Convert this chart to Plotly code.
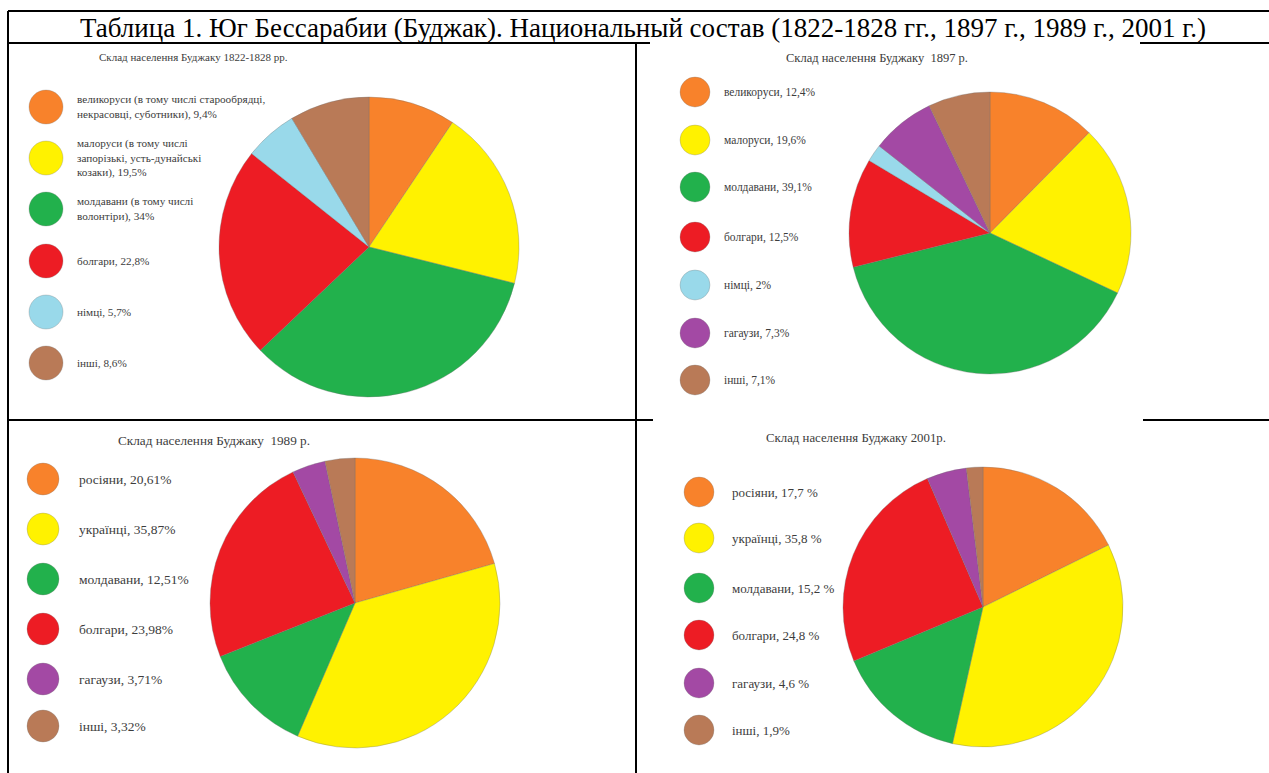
import plotly.graph_objects as go

W, H = 1269, 773

# ---------------- data ----------------
title_main = "Таблица 1. Юг Бессарабии (Буджак). Национальный состав (1822-1828 гг., 1897 г., 1989 г., 2001 г.)"

titles = [
    "Склад населення Буджаку 1822-1828 рр.",
    "Склад населення Буджаку  1897 р.",
    "Склад населення Буджаку  1989 р.",
    "Склад населення Буджаку 2001р.",
]

labels_1822 = ["великоруси (в тому числі старообрядці,<br>некрасовці, суботники), 9,4%",
               "малоруси (в тому числі<br>запорізькі, усть-дунайські<br>козаки), 19,5%",
               "молдавани (в тому числі<br>волонтіри), 34%",
               "болгари, 22,8%", "німці, 5,7%", "інші, 8,6%"]
values_1822 = [9.4, 19.5, 34.0, 22.8, 5.7, 8.6]
colors_1822 = ["orange", "yellow", "green", "red", "lightblue", "brown"]

labels_1897 = ["великоруси, 12,4%", "малоруси, 19,6%", "молдавани, 39,1%", "болгари, 12,5%",
               "німці, 2%", "гагаузи, 7,3%", "інші, 7,1%"]
values_1897 = [12.4, 19.6, 39.1, 12.5, 2.0, 7.3, 7.1]
colors_1897 = ["orange", "yellow", "green", "red", "lightblue", "purple", "brown"]

labels_1989 = ["росіяни, 20,61%", "українці, 35,87%", "молдавани, 12,51%", "болгари, 23,98%",
               "гагаузи, 3,71%", "інші, 3,32%"]
values_1989 = [20.61, 35.87, 12.51, 23.98, 3.71, 3.32]
colors_1989 = ["orange", "yellow", "green", "red", "purple", "brown"]

labels_2001 = ["росіяни, 17,7 %", "українці, 35,8 %", "молдавани, 15,2 %", "болгари, 24,8 %",
               "гагаузи, 4,6 %", "інші, 1,9%"]
values_2001 = [17.7, 35.8, 15.2, 24.8, 4.6, 1.9]
colors_2001 = ["orange", "yellow", "green", "red", "purple", "brown"]

# ---------------- styles / layout positions ----------------
PALETTE = {
    "orange": "#F8822B",
    "yellow": "#FFF200",
    "green": "#22B14C",
    "red": "#ED1C24",
    "lightblue": "#99D9EA",
    "purple": "#A349A4",
    "brown": "#B97A57",
}
SERIF = "Liberation Serif, Times New Roman, serif"
TXT = "#3c3c3c"

panels = [
    dict(labels=labels_1822, values=values_1822, colors=colors_1822, title=titles[0],
         pie=(369, 247, 150), title_xy=(193, 57), tsize=11,
         leg_cx=46, leg_r=17, leg_tx=75, leg_y=[107, 158, 209, 261, 312, 363], fsize=11.2),
    dict(labels=labels_1897, values=values_1897, colors=colors_1897, title=titles[1],
         pie=(990, 233, 141), title_xy=(877, 58), tsize=12.5,
         leg_cx=695, leg_r=15, leg_tx=722, leg_y=[92, 140, 187, 237, 285, 333, 380], fsize=11.5),
    dict(labels=labels_1989, values=values_1989, colors=colors_1989, title=titles[2],
         pie=(355, 603, 145), title_xy=(214, 440), tsize=13.2,
         leg_cx=43, leg_r=16, leg_tx=77, leg_y=[479, 529, 579, 629, 679, 726], fsize=13.5),
    dict(labels=labels_2001, values=values_2001, colors=colors_2001, title=titles[3],
         pie=(983, 607, 140), title_xy=(856, 438), tsize=12.8,
         leg_cx=699, leg_r=15, leg_tx=730, leg_y=[492, 538, 588, 635, 683, 730], fsize=13),
]

fig = go.Figure()
shapes = []
annotations = []

for p in panels:
    cx, cy, r = p["pie"]
    fig.add_trace(go.Pie(
        labels=p["labels"], values=p["values"],
        marker=dict(colors=[PALETTE[c] for c in p["colors"]],
                    line=dict(color="rgba(110,110,110,0.55)", width=0.6)),
        sort=False, direction="clockwise", rotation=0,
        textinfo="none", hoverinfo="label", showlegend=False,
        domain=dict(x=[(cx - r) / W, (cx + r) / W], y=[1 - (cy + r) / H, 1 - (cy - r) / H]),
    ))
    tx, ty = p["title_xy"]
    annotations.append(dict(x=tx, y=ty, xref="x", yref="y", text=p["title"], showarrow=False,
                            xanchor="center", yanchor="middle",
                            font=dict(family=SERIF, size=p["tsize"], color=TXT)))
    for lab, col, ly in zip(p["labels"], p["colors"], p["leg_y"]):
        rr = p["leg_r"]
        shapes.append(dict(type="circle", xref="x", yref="y",
                           x0=p["leg_cx"] - rr, x1=p["leg_cx"] + rr, y0=ly - rr, y1=ly + rr,
                           fillcolor=PALETTE[col], line=dict(color="rgba(120,120,120,0.5)", width=0.6)))
        annotations.append(dict(x=p["leg_tx"], y=ly, xref="x", yref="y", text=lab, showarrow=False,
                                xanchor="left", yanchor="middle", align="left",
                                font=dict(family=SERIF, size=p["fsize"], color=TXT)))

# table frame lines
lines = [
    (8, 11, W, 11), (8, 11, 8, H),
    (8, 43, 650, 43), (1140, 43, W, 43),
    (636, 43, 636, H),
    (8, 420, 653, 420), (1143, 420, W, 420),
]
for x0, y0, x1, y1 in lines:
    shapes.append(dict(type="line", xref="x", yref="y", x0=x0, y0=y0, x1=x1, y1=y1,
                       line=dict(color="black", width=2)))

annotations.append(dict(x=643, y=28, xref="x", yref="y", text=title_main, showarrow=False,
                        xanchor="center", yanchor="middle",
                        font=dict(family=SERIF, size=27, color="black")))

fig.update_layout(
    width=W, height=H,
    margin=dict(l=0, r=0, t=0, b=0),
    paper_bgcolor="white", plot_bgcolor="white",
    xaxis=dict(range=[0, W], visible=False, fixedrange=True),
    yaxis=dict(range=[H, 0], visible=False, fixedrange=True),
    shapes=shapes, annotations=annotations,
    showlegend=False,
)

fig.write_html("out.html", config={"displayModeBar": False},
               post_script="document.body.style.margin='0';document.body.style.overflow='hidden';")
